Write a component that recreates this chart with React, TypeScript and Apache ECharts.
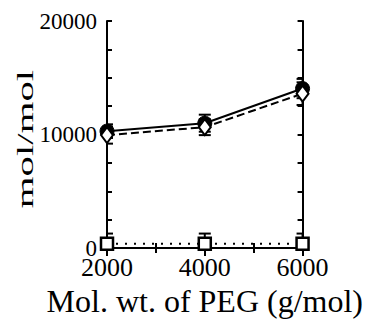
import React, { useEffect, useRef } from "react";
import * as echarts from "echarts";

const pegMW = [2000, 4000, 6000];
const solidValues = [10300, 11000, 14050];
const solidErr = [600, 750, 850];
const dashedValues = [9950, 10650, 13600];
const dashedErr = [750, 700, 1000];
const dottedValues = [380, 380, 380];
const dottedErr = [900, 900, 900];
const yTitle = "mol/mol";
const xTitle = "Mol. wt. of PEG (g/mol)";

const FONT = "Liberation Serif";

function errSeries(vals: number[], errs: number[]) {
  return {
    type: "custom",
    silent: true,
    clip: true,
    z: 1,
    data: pegMW.map((x, i) => [x, vals[i] - errs[i], vals[i] + errs[i]]),
    renderItem: (params: any, api: any) => {
      const x = api.value(0);
      const lo = api.coord([x, api.value(1)]);
      const hi = api.coord([x, api.value(2)]);
      const w = 6;
      const style = { stroke: "#000", lineWidth: 2 };
      return {
        type: "group",
        children: [
          { type: "line", shape: { x1: lo[0], y1: lo[1], x2: hi[0], y2: hi[1] }, style },
          { type: "line", shape: { x1: lo[0] - w, y1: lo[1], x2: lo[0] + w, y2: lo[1] }, style },
          { type: "line", shape: { x1: hi[0] - w, y1: hi[1], x2: hi[0] + w, y2: hi[1] }, style },
        ],
      };
    },
  };
}

function axisLine() {
  return { show: true, lineStyle: { color: "#000", width: 2 } };
}
function tick(len: number) {
  return { inside: true, length: len, lineStyle: { color: "#000", width: 2 } };
}
function minor(split: number, len: number) {
  return { show: true, splitNumber: split, length: len, lineStyle: { color: "#000", width: 2 } };
}

export default function App() {
  const ref = useRef<HTMLDivElement>(null);
  useEffect(() => {
    const chart = echarts.init(ref.current!, null, { renderer: "svg" });
    chart.setOption({
      animation: false,
      backgroundColor: "#fff",
      grid: { left: 107, right: 58, top: 21, bottom: 68 },
      graphic: [
        {
          type: "text",
          x: 25,
          y: 139,
          rotation: Math.PI / 2,
          scaleX: 1.7,
          style: {
            text: yTitle,
            fill: "#000",
            fontFamily: FONT,
            fontSize: 24,
            textAlign: "center",
            textVerticalAlign: "middle",
          },
        },
      ],
      xAxis: [
        {
          type: "value",
          min: 2000,
          max: 6000,
          interval: 2000,
          position: "bottom",
          axisLine: axisLine(),
          axisTick: tick(8),
          minorTick: minor(2, 5),
          splitLine: { show: false },
          axisLabel: {
            color: "#000",
            fontFamily: FONT,
            fontSize: 26,
            margin: 6,
            formatter: (v: number) => String(v),
          },
          name: xTitle,
          nameLocation: "middle",
          nameGap: 34,
          nameTextStyle: { color: "#000", fontFamily: FONT, fontSize: 32 },
        },
        {
          type: "value",
          min: 2000,
          max: 6000,
          interval: 2000,
          position: "top",
          axisLine: axisLine(),
          axisTick: tick(8),
          minorTick: minor(2, 5),
          splitLine: { show: false },
          axisLabel: { show: false },
        },
      ],
      yAxis: [
        {
          type: "value",
          min: 0,
          max: 20000,
          interval: 10000,
          position: "left",
          axisLine: axisLine(),
          axisTick: tick(5),
          minorTick: minor(4, 5),
          splitLine: { show: false },
          axisLabel: {
            color: "#000",
            fontFamily: FONT,
            fontSize: 23,
            margin: 10,
            formatter: (v: number) => String(v),
          },
        },
        {
          type: "value",
          min: 0,
          max: 20000,
          interval: 10000,
          position: "right",
          axisLine: axisLine(),
          axisTick: tick(5),
          minorTick: minor(4, 5),
          splitLine: { show: false },
          axisLabel: { show: false },
        },
      ],
      series: [
        errSeries(solidValues, solidErr),
        errSeries(dashedValues, dashedErr),
        errSeries(dottedValues, dottedErr),
        {
          type: "line",
          z: 3,
          data: pegMW.map((x, i) => [x, dottedValues[i]]),
          lineStyle: { color: "#000", width: 2, type: [2, 7] },
          symbol: "rect",
          symbolSize: 12,
          itemStyle: { color: "#fff", borderColor: "#000", borderWidth: 2.5 },
        },
        {
          type: "line",
          z: 4,
          data: pegMW.map((x, i) => [x, solidValues[i]]),
          lineStyle: { color: "#000", width: 2 },
          symbol: "circle",
          symbolSize: 14,
          itemStyle: { color: "#000", borderColor: "#000", borderWidth: 1 },
        },
        {
          type: "line",
          z: 5,
          data: pegMW.map((x, i) => [x, dashedValues[i]]),
          lineStyle: { color: "#000", width: 2, type: [8, 4] },
          symbol: "diamond",
          symbolSize: [12, 16],
          itemStyle: { color: "#fff", borderColor: "#000", borderWidth: 2 },
        },
      ],
    });
    return () => chart.dispose();
  }, []);
  return (
    <div
      ref={ref}
      style={{ position: "absolute", left: 0, top: 0, width: 366, height: 322 }}
    />
  );
}
